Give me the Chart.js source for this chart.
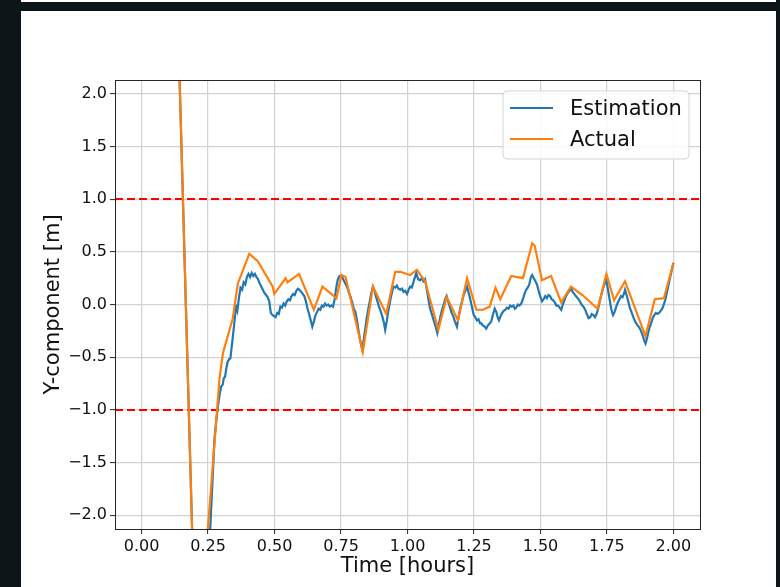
<!DOCTYPE html>
<html>
<head>
<meta charset="utf-8">
<script src="https://cdn.jsdelivr.net/npm/chart.js@4.4.1/dist/chart.umd.min.js"></script>
<style>
  html, body { margin: 0; padding: 0; width: 780px; height: 587px; overflow: hidden; background: #0b1517; }
  #topStrip { position: absolute; left: 21px; top: 0; width: 755px; height: 2px; background: #ffffff; }
  #panel { position: absolute; left: 21px; top: 11px; width: 755px; height: 576px; background: #ffffff; }
  #wrap { position: absolute; left: 0; top: 0; width: 780px; height: 587px; }
</style>
</head>
<body>
<div id="topStrip"></div>
<div id="panel"></div>
<div id="wrap"><canvas id="chart" width="780" height="587"></canvas></div>
<script>
// Estimated Y position (time in hours, value in metres)
const estTime = [
  0.000, 0.205, 0.250, 0.262, 0.268, 0.274, 0.280, 0.287, 0.293, 0.299,
  0.305, 0.309, 0.314, 0.319, 0.324, 0.329, 0.334, 0.338, 0.343, 0.349,
  0.355, 0.360, 0.366, 0.372, 0.378, 0.384, 0.390, 0.396, 0.402, 0.408,
  0.414, 0.420, 0.426, 0.432, 0.438, 0.444, 0.450, 0.456, 0.462, 0.468,
  0.474, 0.480, 0.486, 0.492, 0.498, 0.504, 0.510, 0.516, 0.522, 0.528,
  0.534, 0.540, 0.546, 0.552, 0.558, 0.564, 0.570, 0.576, 0.582, 0.588,
  0.594, 0.600, 0.606, 0.612, 0.618, 0.624, 0.630, 0.636, 0.642, 0.648,
  0.654, 0.660, 0.666, 0.672, 0.678, 0.684, 0.690, 0.696, 0.702, 0.708,
  0.714, 0.720, 0.726, 0.732, 0.738, 0.744, 0.750, 0.756, 0.762, 0.768,
  0.774, 0.780, 0.786, 0.792, 0.798, 0.804, 0.810, 0.816, 0.822, 0.829,
  0.834, 0.840, 0.846, 0.852, 0.858, 0.864, 0.870, 0.876, 0.882, 0.888,
  0.894, 0.900, 0.906, 0.912, 0.916, 0.922, 0.928, 0.935, 0.941, 0.947,
  0.954, 0.960, 0.966, 0.973, 0.979, 0.985, 0.991, 0.998, 1.004, 1.010,
  1.016, 1.022, 1.028, 1.033, 1.040, 1.047, 1.053, 1.060, 1.066, 1.072,
  1.078, 1.084, 1.090, 1.096, 1.102, 1.107, 1.112, 1.118, 1.124, 1.130,
  1.136, 1.142, 1.147, 1.153, 1.160, 1.166, 1.172, 1.178, 1.186, 1.192,
  1.198, 1.204, 1.210, 1.216, 1.224, 1.230, 1.236, 1.242, 1.249, 1.255,
  1.261, 1.267, 1.273, 1.278, 1.284, 1.290, 1.296, 1.302, 1.309, 1.315,
  1.321, 1.328, 1.334, 1.339, 1.344, 1.350, 1.356, 1.362, 1.368, 1.374,
  1.380, 1.386, 1.392, 1.398, 1.404, 1.409, 1.415, 1.421, 1.428, 1.434,
  1.440, 1.446, 1.452, 1.458, 1.464, 1.469, 1.475, 1.481, 1.487, 1.493,
  1.500, 1.506, 1.512, 1.518, 1.524, 1.530, 1.536, 1.542, 1.548, 1.554,
  1.560, 1.566, 1.572, 1.578, 1.584, 1.590, 1.596, 1.603, 1.609, 1.615,
  1.621, 1.627, 1.633, 1.640, 1.646, 1.652, 1.658, 1.664, 1.670, 1.676,
  1.681, 1.687, 1.693, 1.699, 1.705, 1.711, 1.717, 1.723, 1.730, 1.736,
  1.742, 1.748, 1.754, 1.760, 1.766, 1.773, 1.779, 1.785, 1.791, 1.797,
  1.803, 1.809, 1.815, 1.818, 1.824, 1.830, 1.836, 1.842, 1.848, 1.854,
  1.860, 1.866, 1.872, 1.878, 1.884, 1.890, 1.895, 1.900, 1.905, 1.910,
  1.916, 1.922, 1.928, 1.934, 1.940, 1.946, 1.952, 1.958, 1.964, 1.970,
  1.976, 1.982, 1.988, 1.994, 2.000
];
const estimation = [
  15.10, -3.50, -2.55, -1.92, -1.60, -1.28, -1.12, -0.97, -0.86, -0.78,
  -0.76, -0.70, -0.685, -0.60, -0.54, -0.52, -0.51, -0.42, -0.31, -0.17,
  -0.02, -0.06, 0.06, 0.16, 0.14, 0.21, 0.19, 0.26, 0.29, 0.26,
  0.30, 0.27, 0.29, 0.26, 0.24, 0.20, 0.17, 0.14, 0.11, 0.09,
  0.07, 0.03, -0.08, -0.10, -0.11, -0.12, -0.08, -0.09, -0.02, -0.03,
  0.01, -0.01, 0.03, 0.05, 0.04, 0.08, 0.10, 0.09, 0.13, 0.15,
  0.14, 0.12, 0.10, 0.08, 0.03, -0.04, -0.09, -0.15, -0.21, -0.16,
  -0.10, -0.07, -0.04, -0.05, -0.01, -0.02, 0.01, -0.01, 0.00, -0.02,
  -0.01, -0.02, 0.05, 0.16, 0.24, 0.27, 0.27, 0.25, 0.22, 0.19,
  0.16, 0.11, 0.07, 0.02, -0.04, -0.07, -0.15, -0.25, -0.34, -0.42,
  -0.36, -0.25, -0.14, -0.05, 0.03, 0.11, 0.17, 0.13, 0.07, 0.02,
  -0.03, -0.07, -0.12, -0.18, -0.24, -0.16, -0.06, 0.04, 0.11, 0.17,
  0.16, 0.18, 0.15, 0.14, 0.15, 0.12, 0.13, 0.10, 0.14, 0.17,
  0.16, 0.21, 0.26, 0.30, 0.24, 0.23, 0.25, 0.22, 0.24, 0.15,
  0.06, -0.03, -0.08, -0.13, -0.18, -0.22, -0.27, -0.19, -0.11, -0.05,
  0.00, 0.05, 0.08, 0.03, -0.03, -0.08, -0.11, -0.16, -0.21, -0.12,
  -0.04, 0.02, 0.08, 0.12, 0.17, 0.11, 0.05, -0.02, -0.10, -0.12,
  -0.15, -0.14, -0.18, -0.18, -0.20, -0.21, -0.23, -0.20, -0.18, -0.16,
  -0.10, -0.04, -0.07, -0.12, -0.15, -0.11, -0.08, -0.06, -0.05, -0.03,
  -0.04, -0.01, -0.02, -0.01, -0.04, -0.03, 0.00, -0.01, 0.01, 0.05,
  0.10, 0.14, 0.16, 0.19, 0.26, 0.28, 0.25, 0.22, 0.19, 0.13,
  0.07, 0.03, 0.05, 0.08, 0.06, 0.09, 0.08, 0.05, 0.04, 0.02,
  -0.01, -0.01, -0.03, -0.05, 0.00, 0.04, 0.08, 0.11, 0.13, 0.15,
  0.12, 0.10, 0.08, 0.06, 0.04, 0.01, -0.01, -0.03, -0.06, -0.10,
  -0.13, -0.12, -0.09, -0.10, -0.12, -0.09, -0.04, 0.03, 0.10, 0.16,
  0.20, 0.23, 0.14, 0.05, -0.04, -0.10, -0.07, -0.02, 0.02, 0.05,
  0.08, 0.07, 0.11, 0.14, 0.09, 0.03, -0.03, -0.07, -0.11, -0.15,
  -0.18, -0.20, -0.22, -0.25, -0.29, -0.34, -0.37, -0.33, -0.27, -0.22,
  -0.18, -0.13, -0.10, -0.08, -0.09, -0.08, -0.06, -0.04, 0.00, 0.05,
  0.12, 0.19, 0.26, 0.33, 0.395
];

// Actual Y position
const actTime = [
  0.000, 0.2055, 0.284, 0.293, 0.306, 0.343, 0.362, 0.405, 0.437, 0.493,
  0.499, 0.542, 0.549, 0.592, 0.648, 0.680, 0.733, 0.751, 0.767, 0.832,
  0.870, 0.920, 0.954, 0.973, 1.010, 1.035, 1.066, 1.116, 1.147, 1.190,
  1.224, 1.259, 1.284, 1.309, 1.331, 1.349, 1.390, 1.434, 1.469, 1.478,
  1.506, 1.540, 1.578, 1.615, 1.660, 1.715, 1.748, 1.777, 1.818, 1.895,
  1.930, 1.964, 2.000
];
const actual = [
  15.10, -3.54, -1.00, -0.70, -0.46, -0.13, 0.20, 0.48, 0.41, 0.17,
  0.10, 0.25, 0.21, 0.29, -0.05, 0.17, 0.06, 0.28, 0.26, -0.45,
  0.17, -0.09, 0.31, 0.31, 0.28, 0.33, 0.22, -0.24, 0.07, -0.15,
  0.25, -0.05, -0.05, -0.02, 0.16, 0.05, 0.27, 0.25, 0.58, 0.56,
  0.23, 0.27, 0.02, 0.17, 0.085, -0.04, 0.29, 0.04, 0.22, -0.30,
  0.05, 0.06, 0.39
];

// Threshold levels (dashed) and axis settings
const thresholds = [1.0, -1.0];
const xRange = [-0.1, 2.1];
const yRange = [-2.13, 2.13];
const xTicks = [0.00, 0.25, 0.50, 0.75, 1.00, 1.25, 1.50, 1.75, 2.00];
const yTicks = [-2.0, -1.5, -1.0, -0.5, 0.0, 0.5, 1.0, 1.5, 2.0];

const FONT = '"DejaVu Sans", "Liberation Sans", sans-serif';
const toPoints = (xs, ys) => xs.map((x, i) => ({ x, y: ys[i] }));
const minus = s => s.replace('-', '\u2212');

const datasets = [
  {
    label: 'Estimation',
    data: toPoints(estTime, estimation),
    borderColor: '#1f77b4',
    backgroundColor: '#1f77b4',
    borderWidth: 2.2,
    pointRadius: 0,
    tension: 0,
    clip: 0,
    order: 1
  },
  {
    label: 'Actual',
    data: toPoints(actTime, actual),
    borderColor: '#ff7f0e',
    backgroundColor: '#ff7f0e',
    borderWidth: 2.2,
    pointRadius: 0,
    tension: 0,
    clip: 0,
    order: 0
  }
];
thresholds.forEach(level => {
  datasets.push({
    label: '',
    inLegend: false,
    data: xRange.map(x => ({ x, y: level })),
    borderColor: '#ff0000',
    borderWidth: 2,
    borderDash: [8, 4],
    pointRadius: 0,
    clip: 0,
    order: 2
  });
});

// Closes the axes box on the top and right sides
const axesFrame = {
  id: 'axesFrame',
  afterDatasetsDraw(chart) {
    const { ctx, chartArea: a } = chart;
    ctx.save();
    ctx.strokeStyle = '#262626';
    ctx.lineWidth = 1;
    ctx.strokeRect(Math.round(a.left) + 0.5, Math.round(a.top) + 0.5,
                   Math.round(a.right - a.left), Math.round(a.bottom - a.top));
    ctx.restore();
  }
};

// Legend box in the upper right corner of the axes
const innerLegend = {
  id: 'innerLegend',
  afterDraw(chart) {
    const { ctx, chartArea: a } = chart;
    const items = chart.data.datasets.filter(d => d.inLegend !== false);
    const w = 186, h = 68, rowH = 31, r = 4;
    const x0 = a.right - 11 - w, y0 = a.top + 11;
    ctx.save();
    ctx.beginPath();
    ctx.moveTo(x0 + r, y0);
    ctx.arcTo(x0 + w, y0, x0 + w, y0 + h, r);
    ctx.arcTo(x0 + w, y0 + h, x0, y0 + h, r);
    ctx.arcTo(x0, y0 + h, x0, y0, r);
    ctx.arcTo(x0, y0, x0 + w, y0, r);
    ctx.closePath();
    ctx.fillStyle = 'rgba(255,255,255,0.85)';
    ctx.fill();
    ctx.strokeStyle = '#d6d6d6';
    ctx.lineWidth = 1;
    ctx.stroke();
    ctx.font = '21px ' + FONT;
    ctx.textBaseline = 'middle';
    ctx.textAlign = 'left';
    items.forEach((d, i) => {
      const y = y0 + 17 + i * rowH;
      ctx.beginPath();
      ctx.moveTo(x0 + 7, y);
      ctx.lineTo(x0 + 50, y);
      ctx.strokeStyle = d.borderColor;
      ctx.lineWidth = 2.2;
      ctx.stroke();
      ctx.fillStyle = '#111111';
      ctx.fillText(d.label, x0 + 67, y + 2);
    });
    ctx.restore();
  }
};

const gridStyle = {
  color: '#d2d2d2',
  lineWidth: 1.2,
  drawTicks: true,
  tickLength: 5,
  tickColor: '#262626',
  tickWidth: 1
};

new Chart(document.getElementById('chart'), {
  type: 'line',
  data: { datasets },
  options: {
    responsive: false,
    animation: false,
    devicePixelRatio: 1,
    layout: { padding: { left: 20, top: 80, right: 80, bottom: 0 } },
    plugins: { legend: { display: false }, tooltip: { enabled: false } },
    scales: {
      x: {
        type: 'linear',
        min: xRange[0],
        max: xRange[1],
        afterBuildTicks: s => { s.ticks = xTicks.map(value => ({ value })); },
        afterFit: s => { s.height = 58; },
        grid: gridStyle,
        border: { display: true, color: '#262626', width: 1 },
        ticks: {
          padding: 3,
          maxRotation: 0,
          autoSkip: false,
          color: '#111111',
          font: { family: FONT, size: 16 },
          callback: v => minus(Number(v).toFixed(2))
        },
        title: {
          display: true,
          text: 'Time [hours]',
          color: '#111111',
          font: { family: FONT, size: 21 },
          padding: { top: 0, bottom: 8 }
        }
      },
      y: {
        type: 'linear',
        min: yRange[0],
        max: yRange[1],
        afterBuildTicks: s => { s.ticks = yTicks.map(value => ({ value })); },
        afterFit: s => { s.width = 95; },
        grid: gridStyle,
        border: { display: true, color: '#262626', width: 1 },
        ticks: {
          padding: 3,
          autoSkip: false,
          color: '#111111',
          font: { family: FONT, size: 16 },
          callback: v => minus(Number(v).toFixed(1))
        },
        title: {
          display: true,
          text: 'Y-component [m]',
          color: '#111111',
          font: { family: FONT, size: 21 },
          padding: { top: 21, bottom: 0 }
        }
      }
    }
  },
  plugins: [axesFrame, innerLegend]
});
</script>
</body>
</html>
